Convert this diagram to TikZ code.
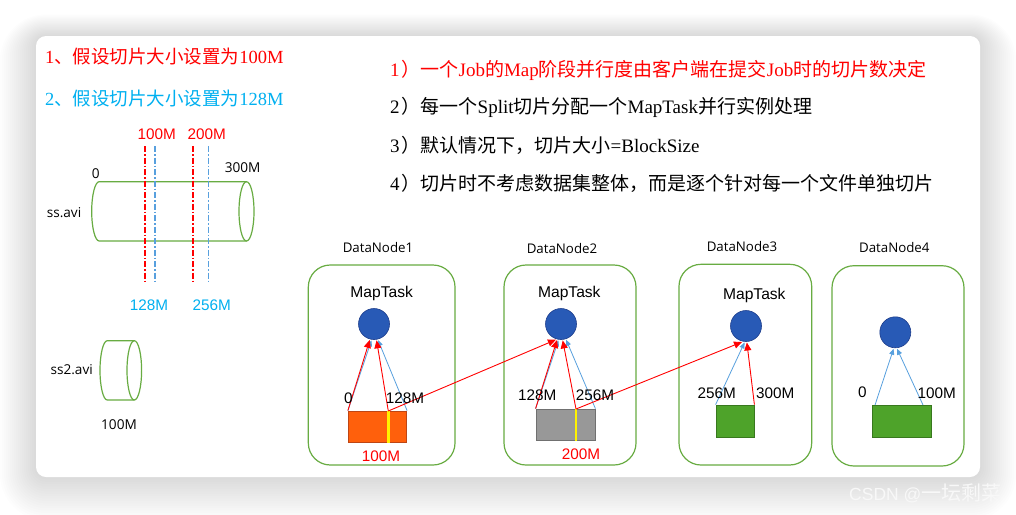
\documentclass[tikz,border=0pt]{standalone}
\usepackage{fontspec}
\setmainfont{Liberation Serif}
\newfontfamily\cjk{Noto Sans CJK SC}
\newfontfamily\ars{Liberation Sans}
\newfontfamily\ops{Open Sans}
\usetikzlibrary{arrows.meta}
\newcommand\zh[1]{{\cjk #1}}
\definecolor{txtred}{RGB}{255,0,0}
\definecolor{txtcyan}{RGB}{0,176,240}
\definecolor{grn}{RGB}{104,172,66}
\definecolor{bl}{RGB}{88,160,222}
\definecolor{circfill}{RGB}{40,90,182}
\definecolor{circdraw}{RGB}{30,62,140}
\definecolor{orfill}{RGB}{255,96,12}
\definecolor{ordraw}{RGB}{190,70,20}
\definecolor{gyfill}{RGB}{152,152,152}
\definecolor{gydraw}{RGB}{112,112,112}
\definecolor{gnfill}{RGB}{78,163,42}
\definecolor{gndraw}{RGB}{56,120,30}
\definecolor{wmark}{RGB}{248,248,248}
\tikzset{
  bigtxt/.style={inner sep=0pt, anchor=west, font=\fontsize{19}{22}\selectfont},
  lefttxt/.style={inner sep=0pt, anchor=west, font=\fontsize{18.5}{21}\selectfont},
  armlab/.style={inner sep=0pt, font=\ars\fontsize{15.3}{17}\selectfont},
  opslab/.style={inner sep=0pt, font=\ops\fontsize{13.6}{16}\selectfont},
  dnbox/.style={draw=grn, line width=1.2pt, rounded corners=22pt, inner sep=0pt},
  mtask/.style={circle, fill=circfill, draw=circdraw, line width=0.6pt, inner sep=0pt, minimum size=31pt, outer sep=1pt},
  blk/.style={inner sep=0pt, line width=0.8pt},
  yel/.style={draw=yellow, line width=2.4pt},
  redarr/.style={draw=txtred, line width=0.9pt, -{Triangle[length=8pt,width=7pt]}},
  bluearr/.style={draw=bl, line width=0.8pt, -{Triangle[length=6pt,width=5pt]}},
  cylline/.style={draw=grn, line width=1.2pt},
  reddash/.style={draw=txtred, line width=1.7pt, dash pattern=on 6pt off 2pt on 1.5pt off 2pt},
  bluedash/.style={draw=bl, line width=1.5pt, dash pattern=on 6pt off 2pt on 1.5pt off 2pt},
}
\begin{document}
\begin{tikzpicture}[x=1pt,y=-1pt]
\useasboundingbox (0,0) rectangle (1016,514);
\fill[white] (0,0) rectangle (1016,514);
% shadow
\foreach \i in {1,...,18}{
  \pgfmathsetmacro\d{2*\i}
  \pgfmathsetmacro\rr{10+2*\i}
  \fill[black,opacity=0.0085,rounded corners=\rr pt] (36-\d,36-0.6*\d) rectangle (980+\d,477+1.2*\d);
}
% card
\fill[white, rounded corners=10pt] (36,36) rectangle (980,477);

% left headings
\node[lefttxt, text=txtred] (h1) at (45,57) {1\zh{、假设切片大小设置为}100M};
\node[lefttxt, text=txtcyan] (h2) at (45,99) {2\zh{、假设切片大小设置为}128M};

% right statements
\node[bigtxt, text=txtred] (s1) at (390,70.7) {1\hspace{2pt}\zh{）一个}Job\zh{的}Map\zh{阶段并行度由客户端在提交}Job\zh{时的切片数决定}};
\node[bigtxt] (s2) at (390,107.5) {2\hspace{2pt}\zh{）每一个}Split\zh{切片分配一个}MapTask\zh{并行实例处理}};
\node[bigtxt] (s3) at (390,145.5) {3\hspace{2pt}\zh{）默认情况下，切片大小}=BlockSize};
\node[bigtxt] (s4) at (390,183) {4\hspace{2pt}\zh{）切片时不考虑数据集整体，而是逐个针对每一个文件单独切片}};

% ss.avi cylinder
\draw[cylline] (246.5,181.7) -- (99.2,181.7) arc[start angle=90,end angle=270,x radius=7.5pt,y radius=29.65pt] -- (246.5,241.0);
\draw[cylline] (246.5,211.35) ellipse [x radius=7.5pt, y radius=29.65pt];
% split lines
\coordinate (d1t) at (145,146); \coordinate (d1b) at (145,282);
\coordinate (d2t) at (155,146); \coordinate (d2b) at (155,282);
\coordinate (d3t) at (193.3,146); \coordinate (d3b) at (193.3,282);
\coordinate (d4t) at (208.3,146); \coordinate (d4b) at (208.3,282);
\draw[reddash] (d1t) -- (d1b);
\draw[bluedash] (d2t) -- (d2b);
\draw[reddash] (d3t) -- (d3b);
\draw[bluedash] (d4t) -- (d4b);
\node[armlab, text=txtred] (l100) at (156.7,134.5) {100M};
\node[armlab, text=txtred] (l200) at (206.7,134.5) {200M};
\node[armlab, text=txtcyan] (l128) at (149,305) {128M};
\node[armlab, text=txtcyan] (l256) at (211.7,305.5) {256M};
\node[opslab] (l0) at (95.7,173.3) {0};
\node[opslab] (l300) at (242.7,167.7) {300M};
\node[opslab] (lss) at (64,212.7) {ss.avi};

% ss2.avi cylinder
\draw[cylline] (134.3,340.7) -- (107.3,340.7) arc[start angle=90,end angle=270,x radius=7.3pt,y radius=29.65pt] -- (134.3,400.0);
\draw[cylline] (134.3,370.35) ellipse [x radius=7.3pt, y radius=29.65pt];
\node[opslab] (lss2) at (71.7,370) {ss2.avi};
\node[opslab] (lss2s) at (119,425) {100M};

% DataNode boxes
\node[dnbox, minimum width=146.7pt, minimum height=200pt] (dn1) at (381.65,365) {};
\node[dnbox, minimum width=132pt, minimum height=200pt] (dn2) at (570,365) {};
\node[dnbox, minimum width=132.7pt, minimum height=200.7pt] (dn3) at (745.35,364.65) {};
\node[dnbox, minimum width=132pt, minimum height=200.3pt] (dn4) at (898,365.85) {};
\node[opslab, font=\ops\fontsize{13.3}{16}\selectfont] (dl1) at (378,247.3) {DataNode1};
\node[opslab, font=\ops\fontsize{13.3}{16}\selectfont] (dl2) at (562,249) {DataNode2};
\node[opslab, font=\ops\fontsize{13.3}{16}\selectfont] (dl3) at (742,246.7) {DataNode3};
\node[opslab, font=\ops\fontsize{13.3}{16}\selectfont] (dl4) at (894.3,247.7) {DataNode4};
\node[armlab, font=\ars\fontsize{15.6}{18}\selectfont] (mt1) at (381.7,293.3) {MapTask};
\node[armlab, font=\ars\fontsize{15.6}{18}\selectfont] (mt2) at (569.3,293.3) {MapTask};
\node[armlab, font=\ars\fontsize{15.6}{18}\selectfont] (mt3) at (754.3,295.7) {MapTask};

% MapTask circles
\node[mtask] (c1) at (374,324) {};
\node[mtask] (c2) at (561,324) {};
\node[mtask] (c3) at (746,326) {};
\node[mtask] (c4) at (895.3,332.3) {};

% blocks
\node[blk, fill=orfill, draw=ordraw, minimum width=58.4pt, minimum height=31.3pt] (r1) at (377.5,426.65) {};
\node[blk, fill=gyfill, draw=gydraw, minimum width=59pt, minimum height=31.7pt] (r2) at (565.5,424.85) {};
\node[blk, fill=gnfill, draw=gndraw, minimum width=38pt, minimum height=32.3pt] (r3) at (735,421.15) {};
\node[blk, fill=gnfill, draw=gndraw, minimum width=58.7pt, minimum height=32.3pt] (r4) at (901.65,421.15) {};
\coordinate (y1) at (388.3,411); \coordinate (y1b) at (388.3,443);
\coordinate (y2) at (576,409); \coordinate (y2b) at (576,441);
\draw[yel] (y1) -- (y1b);
\draw[yel] (y2) -- (y2b);
\coordinate (b4a) at (875,405); \coordinate (b4b) at (923,405);

% blue arrows
\draw[bluearr] (r1.north west) -- (c1.-99);
\draw[bluearr] (r1.north east) -- (c1.-76);
\draw[bluearr] (r2.north west) -- (c2.-99);
\draw[bluearr] (r2.north east) -- (c2.-72);
\draw[bluearr] (r3.north west) -- (c3.-95);
\draw[bluearr] (b4a) -- (c4.-96);
\draw[bluearr] (b4b) -- (c4.-84);

% red arrows
\draw[redarr] (r1.north west) -- (c1.-105);
\draw[redarr] (y1) -- (c1.-81);
\draw[redarr] (y1) -- (c2.-108);
\draw[redarr] (r2.north west) -- (c2.-104);
\draw[redarr] (y2) -- (c2.-84);
\draw[redarr] (y2) -- (c3.-104);
\draw[redarr] (r3.north east) -- (c3.-87);

% block labels
\node[armlab] (a0) at (348.3,398.3) {0};
\node[armlab] (a128) at (405,398.3) {128M};
\node[armlab, text=txtred] (a100) at (381,456.7) {100M};
\node[armlab] (b128) at (537.3,395.7) {128M};
\node[armlab] (b256) at (595,395.7) {256M};
\node[armlab, text=txtred] (b200) at (581,454) {200M};
\node[armlab] (e256) at (716.7,393.3) {256M};
\node[armlab] (e300) at (775.3,393.3) {300M};
\node[armlab] (f0) at (862.3,392.3) {0};
\node[armlab] (f100) at (936.7,393.3) {100M};

% watermark
\node[inner sep=0pt, anchor=west, text=wmark, font=\ars\fontsize{17.5}{20}\selectfont] (wm) at (849,493) {CSDN @{\cjk\fontsize{20}{22}\selectfont 一坛剩菜}};
\end{tikzpicture}
\end{document}
